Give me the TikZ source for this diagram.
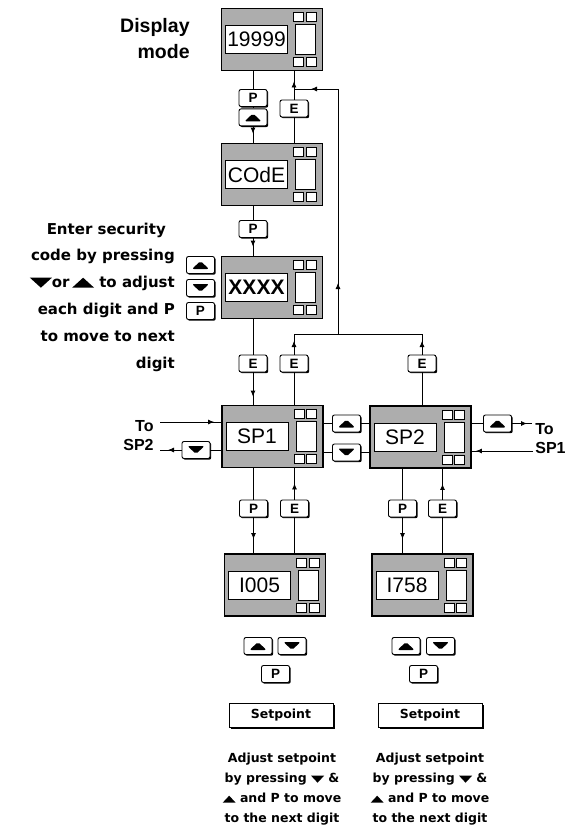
\documentclass[tikz,border=0pt]{standalone}
\usepackage{fontspec}
\setmainfont{Liberation Sans}
\newfontfamily\dejavu{DejaVu Sans}
\usetikzlibrary{arrows.meta, positioning, calc, shadows, decorations.markings}

% small filled triangles for text and keys
\newcommand{\uptri}[2]{\tikz[baseline=0pt, x=1pt, y=1pt]\fill (0,0) -- (#1,0) -- ({#1/2},#2) -- cycle;}
\newcommand{\dntri}[2]{\tikz[baseline=0pt, x=1pt, y=1pt]\fill (0,#2) -- (#1,#2) -- ({#1/2},0) -- cycle;}

% a meter front panel: name, centre, reading
\newcommand{\meter}[3]{%
  \node[meterbox] (#1) at (#2) {};
  \node[meterwin] (#1-win) at ($(#1.center)+(-15.5,0)$) {#3};
  \begin{scope}[shift={(#1.center)}]
    \draw[lamp] (21.5,-27) rectangle (31.5,-18);
    \draw[lamp] (34,-27) rectangle (44,-18);
    \draw[lamp] (21.5,18) rectangle (31.5,27);
    \draw[lamp] (34,18) rectangle (44,27);
    \draw[lamp] (23.5,-15) rectangle (43.5,15);
  \end{scope}}

\begin{document}
\begin{tikzpicture}[
    x=1pt, y=-1pt, line width=0.8pt,
    meterbox/.style={rectangle, draw, line width=1.8pt, fill=black!32, minimum width=101pt,
                     minimum height=62pt, inner sep=0pt},
    meterwin/.style={rectangle, draw, line width=0.8pt, fill=white, minimum width=62pt,
                     minimum height=28pt, inner sep=0pt, font=\fontsize{21}{24}\selectfont},
    lamp/.style={draw, line width=0.8pt, fill=white},
    key/.style={rectangle, draw, rounded corners=2pt, line width=0.9pt, fill=white,
                minimum width=28pt, minimum height=17pt, inner sep=0pt,
                font=\fontsize{13.5}{14}\selectfont\bfseries,
                drop shadow={shadow xshift=1.2pt, shadow yshift=-1.2pt, fill=black, opacity=1}},
    setkey/.style={rectangle, draw, line width=0.9pt, fill=white, minimum width=104pt,
                   minimum height=24pt, inner sep=0pt,
                   font=\dejavu\bfseries\fontsize{12.5}{14}\selectfont,
                   drop shadow={shadow xshift=2pt, shadow yshift=-2pt, fill=black, opacity=1}},
    midtip/.style={postaction={decorate}, decoration={markings,
                   mark=at position #1 with {\arrow{Latex[length=6pt, width=5pt]}}}},
    modelabel/.style={font=\fontsize{19.5}{26}\selectfont\bfseries, align=right, inner sep=0pt},
    hint/.style={font=\dejavu\bfseries\fontsize{15}{26.8}\selectfont, align=right, inner sep=0pt},
    tolabel/.style={font=\fontsize{16}{19.5}\selectfont\bfseries, inner sep=0pt},
    memo/.style={font=\dejavu\bfseries\fontsize{12.5}{20}\selectfont, align=center, inner sep=0pt},
]
  \useasboundingbox (0,0) rectangle (568,828);

  % meters
  \meter{disp}{272,39.5}{19999}
  \meter{code}{272,174.5}{COdE}
  \meter{sec}{272,287.5}{\bfseries XXXX}
  \meter{spa}{272.5,436.5}{SP1}
  \meter{spb}{420.5,437}{SP2}
  \meter{vala}{275,585}{I005}
  \meter{valb}{422.5,585}{I758}

  % keys between the upper meters
  \node[key] (kp1) at (253,98) {P};
  \node[key, below=1.5pt of kp1] (ku1) {\uptri{17}{8}};
  \node[key] (ke1) at (294,108.5) {E};
  \node[key] (kp2) at (253,229) {P};

  % keys beside the security code
  \node[key] (ksu) at (200.5,265) {\uptri{17}{8}};
  \node[key] (ksd) at (200.5,288) {\dntri{17}{8}};
  \node[key] (ksp) at (200.5,311) {P};

  % E keys above SP1 and SP2
  \node[key] (ke2) at (253,363.5) {E};
  \node[key] (ke3) at (294,363.5) {E};
  \node[key] (ke4) at (422,363.5) {E};

  % keys round SP1 and SP2
  \node[key] (kl) at (196,450) {\dntri{17}{8}};
  \node[key] (kmu) at (346.5,423.5) {\uptri{17}{8}};
  \node[key] (kmd) at (346.5,452.5) {\dntri{17}{8}};
  \node[key] (kr) at (497.5,423.5) {\uptri{17}{8}};

  % keys below SP1 and SP2
  \node[key] (kp3) at (253.5,508.5) {P};
  \node[key] (ke5) at (294.5,508.5) {E};
  \node[key] (kp4) at (402.5,508.5) {P};
  \node[key] (ke6) at (442.5,508.5) {E};

  % keys below the setpoint values
  \node[key] (kau) at (258,646) {\uptri{17}{8}};
  \node[key] (kad) at (292,646) {\dntri{17}{8}};
  \node[key] (kap) at (275.5,674) {P};
  \node[key] (kbu) at (406,646) {\uptri{17}{8}};
  \node[key] (kbd) at (440.5,646) {\dntri{17}{8}};
  \node[key] (kbp) at (423.5,674) {P};

  \node[setkey] (seta) at (281,715) {Setpoint};
  \node[setkey] (setb) at (430,715) {Setpoint};

  % down the left column
  \draw (disp.south -| kp1) -- (kp1.north);
  \draw (kp1.south) -- (ku1.north);
  \draw[midtip=-9pt] (ku1.south) -- (code.north -| ku1);
  \draw (code.south -| kp2) -- (kp2.north);
  \draw[midtip=-9pt] (kp2.south) -- (sec.north -| kp2);
  \draw (sec.south -| ke2) -- (ke2.north);
  \draw[midtip=-8pt] (ke2.south) -- (spa.north -| ke2);

  % E back to display mode
  \coordinate (bus) at (338,334);
  \coordinate (bustop) at (338,89);
  \draw (spa.north -| ke3) -- (ke3.south);
  \draw[midtip=-7pt] (ke3.north) -- (ke3 |- bus);
  \draw (spb.north -| ke4) -- (ke4.south);
  \draw[midtip=-7pt] (ke4.north) -- (ke4 |- bus);
  \draw (ke3 |- bus) -- (ke4 |- bus);
  \draw[midtip=51pt] (bus) -- (bustop);
  \draw[midtip=27pt] (bustop) -- (ke1 |- bustop);
  \draw (code.north -| ke1) -- (ke1.south);
  \draw[midtip=-10pt] (ke1.north) -- (disp.south -| ke1);

  % SP1 to and from SP2
  \coordinate (ina) at (160,422);
  \coordinate (outa) at (160,450);
  \draw[midtip=-7pt] (ina) -- (spa.west |- ina);
  \draw (spa.west |- kl) -- (kl.east);
  \draw[midtip=-8pt] (kl.west) -- (outa);
  \draw (spa.east |- kmu) -- (kmu.west);
  \draw (kmu.east) -- (spb.west |- kmu);
  \draw (spa.east |- kmd) -- (kmd.west);
  \draw (kmd.east) -- (spb.west |- kmd);
  \coordinate (outb) at (532,423.5);
  \coordinate (inb) at (533,451);
  \draw (spb.east |- kr) -- (kr.west);
  \draw[midtip=-5pt] (kr.east) -- (outb);
  \draw[midtip=-4pt] (inb) -- (spb.east |- inb);

  % setpoint values
  \draw (spa.south -| kp3) -- (kp3.north);
  \draw[midtip=-14pt] (kp3.south) -- (vala.north -| kp3);
  \draw (vala.north -| ke5) -- (ke5.south);
  \draw[midtip=-15pt] (ke5.north) -- (spa.south -| ke5);
  \draw (spb.south -| kp4) -- (kp4.north);
  \draw[midtip=-14pt] (kp4.south) -- (valb.north -| kp4);
  \draw (valb.north -| ke6) -- (ke6.south);
  \draw[midtip=-15pt] (ke6.north) -- (spb.south -| ke6);

  % labels
  \node[modelabel, anchor=north east] (lblmode) at (190,18) {Display\\mode};
  \node[hint, anchor=north east] (lblcode) at (175,222.5)
    {Enter security\hspace*{9pt}\\code by pressing\\\dntri{22}{10}or\,\uptri{22}{10} to adjust\\each digit and P\\to move to next\\digit};
  \node[tolabel, anchor=north east, align=right] (lblina) at (154,420) {To\\SP2};
  \node[tolabel, anchor=north west, align=left] (lblinb) at (535,423) {To\\SP1};
  \node[memo, anchor=north] (txta) at (282,753)
    {Adjust setpoint\\by pressing \dntri{13}{7} \&\\\uptri{13}{7} and P to move\\to the next digit};
  \node[memo, anchor=north] (txtb) at (430,753)
    {Adjust setpoint\\by pressing \dntri{13}{7} \&\\\uptri{13}{7} and P to move\\to the next digit};
\end{tikzpicture}
\end{document}
